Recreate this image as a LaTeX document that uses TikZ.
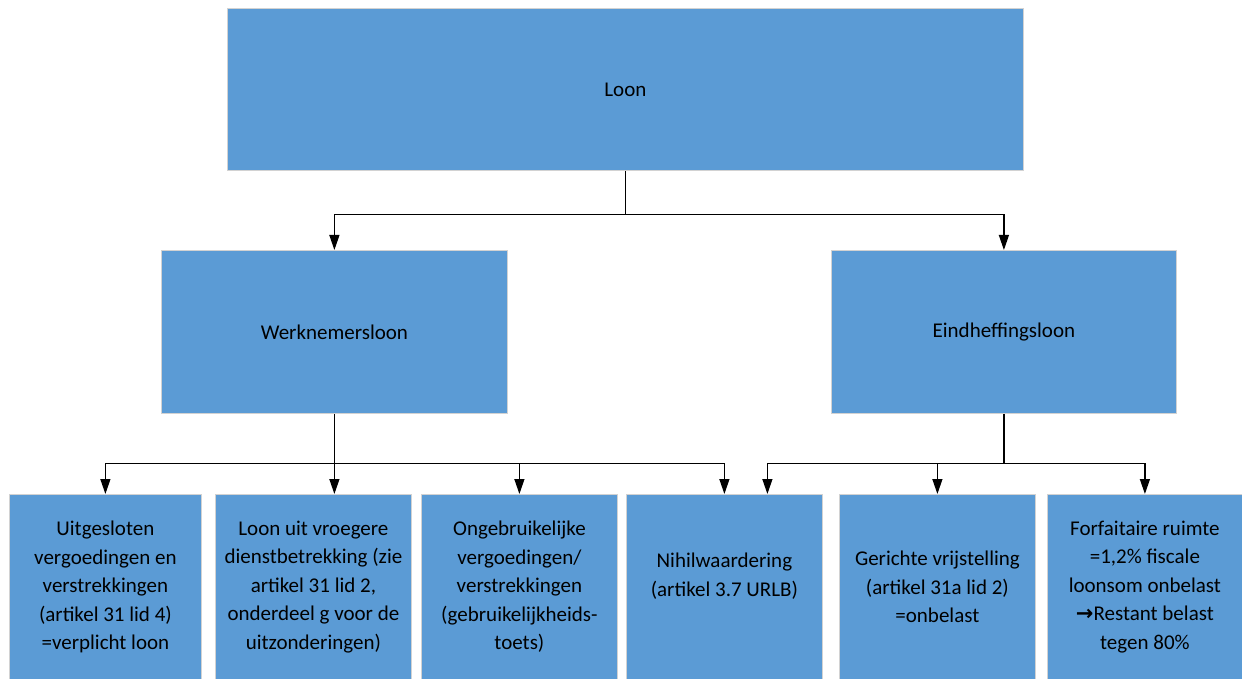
\documentclass[tikz,border=0pt]{standalone}
\usepackage{fontspec}
\setmainfont{Carlito}
\newfontfamily\arrowfont{DejaVu Sans}
\usepackage{xcolor}
\usetikzlibrary{arrows.meta,positioning,calc}
\definecolor{boxblue}{HTML}{5B9BD5}
\begin{document}
\begin{tikzpicture}[x=1pt,y=-1pt,font=\fontsize{21}{28.5}\selectfont,
  box/.style={draw=gray!35,line width=0.8pt,fill=boxblue,inner sep=0pt,align=center,
    anchor=north west,minimum width=#1},
  box/.default=196,
  arr/.style={-{Triangle[length=15pt,width=10pt]},line width=1.3pt}]
\useasboundingbox (0,0) rectangle (1242,679);
% top level
\node[box=796,minimum height=162] (loon) at (227,8) {Loon};
\node[box=346,minimum height=163] (wnl) at (161,250) {Werknemersloon};
\node[box=345,minimum height=163] (ehl) at (831,250) {Eindheffingsloon};
\draw[line width=1.3pt] (loon.south) -- ++(0,44) coordinate (j0);
\draw[arr] (j0) -| (wnl.north);
\draw[arr] (j0) -| (ehl.north);
% bottom level
\node[box=192,minimum height=185] (uit) at (9,494)
  {Uitgesloten\\vergoedingen en\\verstrekkingen\\(artikel 31 lid 4)\\=verplicht loon};
\node[box=196,minimum height=185] (vroeg) at (215,494)
  {Loon uit vroegere\\dienstbetrekking (zie\\artikel 31 lid 2,\\onderdeel g voor de\\uitzonderingen)};
\node[box=196,minimum height=185] (onge) at (421,494)
  {Ongebruikelijke\\vergoedingen/\\verstrekkingen\\(gebruikelijkheids-\\toets)};
\node[box=196,minimum height=185] (nihil) at (626,494)
  {Nihilwaardering\\(artikel 3.7 URLB)\\[-4pt]};
\node[box=196,minimum height=185] (gericht) at (839,494)
  {Gerichte vrijstelling\\(artikel 31a lid 2)\\=onbelast};
\node[box=195,minimum height=185] (forf) at (1047,494)
  {Forfaitaire ruimte\\=1,2\% fiscale\\loonsom onbelast\\{\arrowfont\bfseries →}Restant belast\\tegen 80\%};
% werknemersloon branches
\draw[line width=1.3pt] (wnl.south) -- ++(0,50) coordinate (j1);
\draw[arr] (j1) -- (wnl.south |- vroeg.north);
\draw[arr] (j1) -| (uit.north);
\draw[arr] (j1) -| (onge.north);
\draw[arr] (j1) -| (nihil.north);
% eindheffingsloon branches
\draw[line width=1.3pt] (ehl.south) -- ++(0,50) coordinate (j2);
\draw[arr] (j2) -| ($(nihil.north)+(43,0)$);
\draw[arr] (j2) -| (gericht.north);
\draw[arr] (j2) -| (forf.north);
\end{tikzpicture}
\end{document}
